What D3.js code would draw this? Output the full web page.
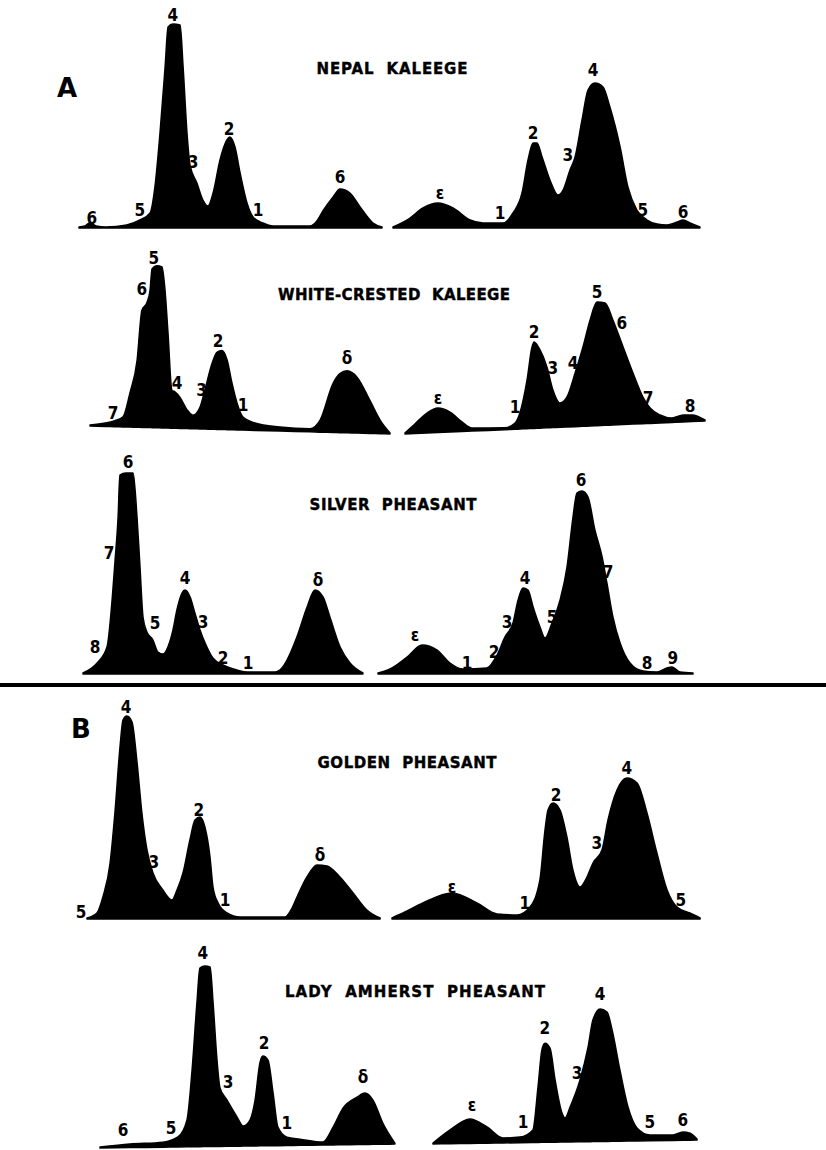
<!DOCTYPE html>
<html>
<head>
<meta charset="utf-8">
<script src="https://cdn.jsdelivr.net/npm/d3@7/dist/d3.min.js"></script>
<style>
  html, body { margin: 0; padding: 0; background: #fff; }
  svg { display: block; }
</style>
</head>
<body>
<svg id="fig" width="826" height="1150"></svg>
<script>
// Densitometer scans of electrophoresis strips.
// Each trace: [distance along strip (mm), optical density (arbitrary units)].

const species = ["NEPAL KALEEGE", "WHITE-CRESTED KALEEGE", "SILVER PHEASANT", "GOLDEN PHEASANT", "LADY AMHERST PHEASANT"];
const sections = ["A", "B"];

// ---- Nepal kaleege ----
const nepalLeft = [[0,0],[2,0.5],[3.7,2.2],[5.7,0.5],[9,0],[15.9,1],[20.3,3.5],[23.7,7],[25.3,20],[27,47],[28.7,80],[29.7,100],[31.3,101.5],[33.7,101],[34.7,80],[36,47],[37,31],[39.3,22],[41.3,13.5],[43,10.5],[44.7,17],[47,33.5],[49.3,43.5],[50.3,45],[52,40],[53.7,27],[56,12],[58,5],[61.3,2],[64.7,0.5],[77,0.5],[79.3,3],[81.3,8],[84.7,15],[87,19],[90.3,17],[93.7,10],[98,2],[101,0]];
const nepalLeftLabels = [["6",4.3,4.5],["5",20.3,8.5],["4",31.3,106],["3",38,32.5],["2",50,49],["1",59.7,8.5],["6",87,25]];
const nepalRight = [[0,0],[5.7,4.5],[10,9.5],[15,12],[20,9.5],[25.7,3.5],[30,2],[36.7,2],[40,7],[43,17],[45,33.5],[46.7,42],[48,42],[49.7,35],[52.3,23.5],[55,16],[56.7,18.5],[59,28.5],[60.7,35],[63,53.5],[65,68.5],[67.3,72],[70,70],[72.3,60],[75.7,40],[78.3,20],[81.3,8.5],[84.7,3.5],[88,1.5],[91.3,1],[94.7,2.5],[96.7,3.5],[99,2],[102.3,0]];
const nepalRightLabels = [["ε",15.7,17],["1",35.7,7],["2",46.7,47],["3",58.3,36],["4",66.7,78.5],["5",83.3,8.5],["6",96.7,7.5]];

// ---- White-crested kaleege ----
const whiteLeft = [[0,0],[5,1.2],[8.3,2.5],[11,4.5],[13.3,16.5],[15.7,33],[17.3,58],[19,62],[20,68],[20.7,79],[22.3,80.5],[24,80],[25,68.5],[26,47],[27.3,18.5],[28.3,17.7],[30,15],[32.3,9],[34.3,6.3],[36.7,10.5],[38.3,19],[40.7,32.5],[42.3,38],[44,39],[45.7,34.3],[47.3,23],[49,13],[51,6],[55,3.2],[63.3,1.5],[73.3,1],[76.7,5.5],[81,24],[83.3,29],[85.7,30.5],[89,27.5],[93.3,16],[96.7,6.3],[100,0]];
const whiteLeftLabels = [["7",7.7,6.3],["6",17.3,68.7],["5",21.3,84.5],["4",29,22],["3",37.2,19],["2",42.7,43.7],["1",51,12],["δ",85.7,37]];
const whiteRight = [[0,0],[3.3,4.3],[7.3,9.5],[11,11.8],[15,9.5],[19,4.3],[22.3,1],[33.3,0.5],[36.7,2.6],[38.3,7.5],[40.7,24],[42.3,40],[43,42.7],[45,38.6],[47.3,30],[49.3,18.3],[51.7,11.6],[54,14.5],[56.7,26.3],[59.3,39],[61.7,52.5],[64,61.3],[66.7,60.7],[69.3,52],[72.7,38.3],[76,25],[79.3,12.8],[81.7,7.2],[85,3.5],[89,1.7],[92.7,3],[95.7,2.8],[100,0]];
const whiteRightLabels = [["ε",11,16.8],["1",36.7,10.6],["2",43,47.7],["3",49.3,29.3],["4",56,31.4],["5",64,66.3],["6",72.3,50.3],["7",81,12.3],["8",95,7.3]];

// ---- Silver pheasant ----
const silverLeft = [[0,0],[4.7,5],[8,13],[9.7,36.5],[10.7,56.5],[11.7,78],[12.3,99],[14.3,100],[16.7,100],[18,78],[19,53],[20,28],[21.3,20.5],[23.3,16.5],[25,10.5],[26.7,9.5],[28.3,13],[30,21.5],[31.3,31.5],[33,40],[34,41.5],[35.7,38],[37.3,30],[39,21.5],[41.3,13],[43.3,7.5],[46.7,4],[51.3,1.5],[54.7,0.5],[64,0.5],[66.3,2.5],[68,6.5],[71.3,18],[74.7,33],[77.3,41.5],[80,38],[82.3,28],[85.7,13],[89,5],[93.3,0]];
const silverLeftLabels = [["8",4,13],["7",8.7,60],["6",15,105.5],["5",24,25],["4",34,47.5],["3",40,25.5],["2",46.7,7.5],["1",55,5],["δ",78.3,46.5]];
const silverRight = [[0,0],[4,2],[9.7,8],[14.7,14],[19.7,11.5],[24,5],[28.3,2],[36.3,2.5],[39.7,9],[42.3,18],[45,25],[46.7,36.5],[48.3,42.5],[50,41.5],[51.7,33],[54,23],[55.7,17.5],[58,25],[60.7,36.5],[63,53],[65,78],[66.3,90],[68,91],[70,88],[72.3,71.5],[74.7,58],[76.3,45],[78.3,28],[80.7,15],[84,5],[88.3,1],[93,0.5],[96.3,2.5],[98,3],[100.7,0.5],[105,0]];
const silverRightLabels = [["ε",12.3,19],["1",29.7,5],["2",38.7,10.5],["3",43,25.5],["4",49,47.5],["5",58,28],["6",67.7,96.5],["7",76.7,50.5],["8",89.7,5],["9",98.3,7.5]];

// ---- Golden pheasant ----
const goldenLeft = [[0,0],[3.3,2.5],[5.3,10.5],[7.7,27.5],[9.3,52.5],[11,85.5],[12,99],[13.3,101],[15,98],[16.7,77.5],[18.3,52.5],[20,34],[22,22.5],[25.3,14],[28.3,9],[30,14],[32,22.5],[34.3,39],[36,49],[37.7,50.5],[39.3,45.5],[41,30.5],[42,15.5],[43.7,7.5],[46.7,2.5],[51,0.5],[66,0.5],[68,4],[70,10.5],[73.3,20.5],[76.7,26.5],[80,26],[84.3,20.5],[88.7,12.5],[93.3,4],[97.7,0]];
const goldenLeftLabels = [["5",-2,3],["4",13,105.5],["3",22.3,28],["2",37.3,54],["1",46,9],["δ",77.7,31.5]];
const goldenRight = [[0,0],[4.3,3],[10.3,7.5],[20,12.5],[28.3,7.5],[35,2],[41.7,1.5],[46,5.5],[49.3,19],[51,44],[52,54],[53.7,57.5],[56,54],[58.3,40.5],[60.3,24],[62.7,15.5],[65,20.5],[67,27.5],[70,34],[72,49],[75,64],[78.3,70],[81.7,67.5],[85,52.5],[88.3,32.5],[91.7,14],[95,5.5],[99.3,2.5],[102.7,0]];
const goldenRightLabels = [["ε",20,15.5],["1",44.3,7.5],["2",54.7,61.5],["3",68.3,37.5],["4",78.3,75],["5",96.3,9]];

// ---- Lady Amherst pheasant ----
const amherstLeft = [[0,0],[10,1.3],[21,2],[26,4.5],[29,13],[30.7,38],[32.3,71.3],[33.3,88.8],[35,89.8],[36.7,89.3],[37.7,71.2],[39,42.7],[40,28.7],[42.3,22.7],[45.7,14],[47.7,9.5],[50,12.5],[51.7,22.5],[53.3,41],[54.3,44.4],[56,42.3],[57.7,25.8],[59.3,8.8],[62.3,3.7],[66.7,2.6],[74.3,1],[77.7,8.4],[81,17.8],[85.7,23.2],[88.3,25.2],[91,21.6],[94.3,10],[98.3,0]];
const amherstLeftLabels = [["6",7.7,8.5],["5",23.7,9],["4",34.3,96.3],["3",42.7,31.7],["2",54.7,51],["1",62.3,10.8],["δ",87.7,33]];
const amherstRight = [[0,0],[5.7,6.4],[12.3,11.7],[18,7.6],[23.3,2],[29,2.3],[33.3,5.8],[35,27.2],[36.3,45.7],[37.3,49],[39,46.6],[40.7,30.6],[43,14],[44,11.5],[45.7,17],[49,30.4],[51.7,46.9],[53.3,60.3],[55.7,65.8],[58,64.2],[59.7,55.2],[62.3,35.1],[65,16.5],[68,6],[72.3,2.4],[80,2.2],[83.3,3.6],[85.7,3],[88,0]];
const amherstRightLabels = [["ε",13,18.7],["1",30,9.8],["2",37.3,56.6],["3",48,33.9],["4",55.7,73.2],["5",72.3,8.8],["6",83.3,9.6]];

// ---- page layout ----
const W = 826, H = 1150;
const svg = d3.select("#fig");

// strip positions: x0 = left end of scan, yStart/yEnd = baseline at 0 and 100 mm
const panels = [
  { data: nepalLeft,    labels: nepalLeftLabels,    x0: 79,  yStart: 227,  yEnd: 227 },
  { data: nepalRight,   labels: nepalRightLabels,   x0: 393, yStart: 227,  yEnd: 227 },
  { data: whiteLeft,    labels: whiteLeftLabels,    x0: 90,  yStart: 425,  yEnd: 433 },
  { data: whiteRight,   labels: whiteRightLabels,   x0: 405, yStart: 433,  yEnd: 420 },
  { data: silverLeft,   labels: silverLeftLabels,   x0: 83,  yStart: 673,  yEnd: 673 },
  { data: silverRight,  labels: silverRightLabels,  x0: 378, yStart: 673,  yEnd: 673 },
  { data: goldenLeft,   labels: goldenLeftLabels,   x0: 87,  yStart: 918,  yEnd: 918 },
  { data: goldenRight,  labels: goldenRightLabels,  x0: 392, yStart: 918,  yEnd: 918 },
  { data: amherstLeft,  labels: amherstLeftLabels,  x0: 100, yStart: 1147, yEnd: 1143 },
  { data: amherstRight, labels: amherstRightLabels, x0: 433, yStart: 1143, yEnd: 1138.5 }
];

const titleLayout = [
  { cx: 392, cy: 69,  w: 151 },
  { cx: 394, cy: 295, w: 232 },
  { cx: 393, cy: 505, w: 167 },
  { cx: 407, cy: 763, w: 179 },
  { cx: 415, cy: 992, w: 260 }
];
const sectionLayout = [ { x: 67, y: 88 }, { x: 81, y: 729 } ];

// density units -> pixel height (shared by every scan)
const height = d3.scaleLinear().domain([0, 100]).range([0, 200]);

const gTraces = svg.append("g");
panels.forEach(p => {
  const x = d3.scaleLinear().domain([0, 100]).range([p.x0, p.x0 + 300]);
  const base = d3.scaleLinear().domain([0, 100]).range([p.yStart, p.yEnd]);
  const area = d3.area()
    .x(d => x(d[0]))
    .y0(d => base(d[0]) + 1)
    .y1(d => base(d[0]) - height(d[1]))
    .curve(d3.curveMonotoneX);

  gTraces.append("path")
    .datum(p.data)
    .attr("d", area)
    .attr("fill", "#000")
    .attr("stroke", "#000")
    .attr("stroke-width", 1.5)
    .attr("stroke-linejoin", "round");

  gTraces.selectAll(null)
    .data(p.labels)
    .join("text")
    .attr("x", d => x(d[1]))
    .attr("y", d => base(d[1]) - height(d[2]))
    .attr("text-anchor", "middle")
    .attr("dominant-baseline", "central")
    .attr("font-family", "'DejaVu Sans Condensed', 'DejaVu Sans', sans-serif")
    .attr("font-weight", "bold")
    .attr("font-size", 17)
    .attr("fill", "#000")
    .text(d => d[0]);
});

// species titles
svg.append("g").selectAll("text")
  .data(species)
  .join("text")
  .attr("x", (d, i) => titleLayout[i].cx)
  .attr("y", (d, i) => titleLayout[i].cy)
  .attr("text-anchor", "middle")
  .attr("dominant-baseline", "central")
  .attr("font-family", "'DejaVu Sans', sans-serif")
  .attr("font-weight", "bold")
  .attr("font-size", 15)
  .attr("textLength", (d, i) => titleLayout[i].w)
  .attr("lengthAdjust", "spacing")
  .attr("fill", "#000")
  .attr("stroke", "#000")
  .attr("stroke-width", 0.4)
  .text(d => d.split(" ").join("\u00a0\u00a0"));

// section letters
svg.append("g").selectAll("text")
  .data(sections)
  .join("text")
  .attr("x", (d, i) => sectionLayout[i].x)
  .attr("y", (d, i) => sectionLayout[i].y)
  .attr("text-anchor", "middle")
  .attr("dominant-baseline", "central")
  .attr("font-family", "'DejaVu Sans', sans-serif")
  .attr("font-weight", "bold")
  .attr("font-size", 26)
  .attr("fill", "#000")
  .text(d => d);

// rule separating section A from section B
svg.append("rect")
  .attr("x", 0).attr("y", 683)
  .attr("width", W).attr("height", 4)
  .attr("fill", "#000");
</script>
</body>
</html>
